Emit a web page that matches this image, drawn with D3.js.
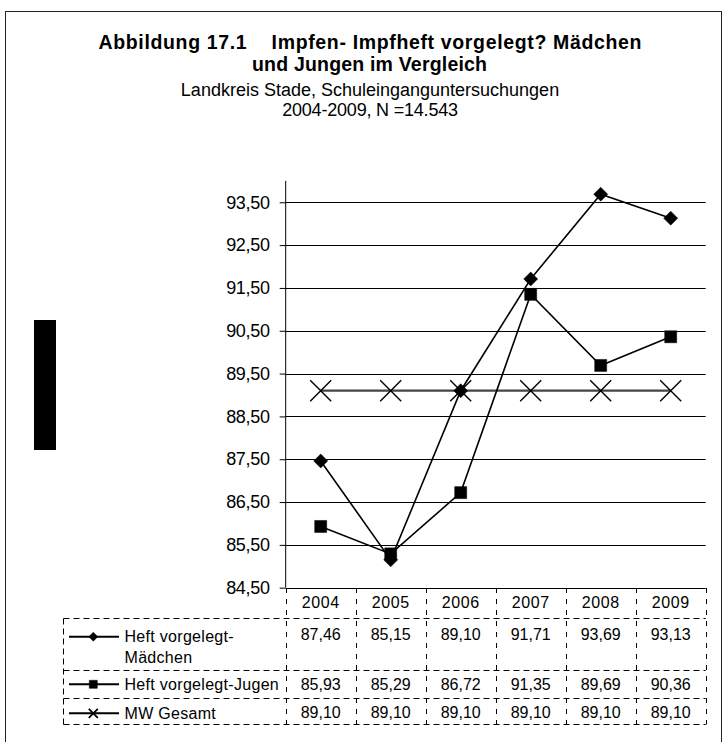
<!DOCTYPE html>
<html>
<head>
<meta charset="utf-8">
<script src="https://cdn.jsdelivr.net/npm/d3@7"></script>
<style>
    body { margin: 0; background: #fff; }
    svg text { font-family: "Liberation Sans", Arial, sans-serif; fill: #000; }
</style>
</head>
<body>
<div id="chart"></div>
<script>
// Daten
const years = ["2004", "2005", "2006", "2007", "2008", "2009"];
const maedchen = [87.46, 85.15, 89.10, 91.71, 93.69, 93.13];
const jungen = [85.93, 85.29, 86.72, 91.35, 89.69, 90.36];
const mwGesamt = [89.10, 89.10, 89.10, 89.10, 89.10, 89.10];
const yTicks = [84.5, 85.5, 86.5, 87.5, 88.5, 89.5, 90.5, 91.5, 92.5, 93.5];
const seriesNames = ["Heft vorgelegt-Mädchen", "Heft vorgelegt-Jugen", "MW Gesamt"];

const W = 725, H = 742;
const plotLeft = 285.7, plotRight = 705.7;

const svg = d3.select("#chart").append("svg")
    .attr("width", W)
    .attr("height", H);

// Rahmen
svg.append("rect")
    .attr("x", 5.5).attr("y", 11.5)
    .attr("width", 716).attr("height", 800)
    .attr("fill", "none").attr("stroke", "#222").attr("stroke-width", 1);

// schwarzer Balken links
svg.append("rect")
    .attr("x", 34).attr("y", 320)
    .attr("width", 22).attr("height", 130)
    .attr("fill", "#000");

// Titel
const title = svg.append("g").attr("text-anchor", "middle");
title.append("text")
    .attr("x", 370).attr("y", 48.5)
    .style("font-size", "19.5px").style("font-weight", "bold")
    .style("white-space", "pre")
    .attr("textLength", 543).attr("lengthAdjust", "spacing")
    .text("Abbildung 17.1    Impfen- Impfheft vorgelegt? Mädchen");
title.append("text")
    .attr("x", 369.5).attr("y", 70.5)
    .style("font-size", "19.5px").style("font-weight", "bold")
    .attr("textLength", 235).attr("lengthAdjust", "spacing")
    .text("und Jungen im Vergleich");
title.append("text")
    .attr("x", 370).attr("y", 95.5)
    .style("font-size", "18px").style("letter-spacing", "0px")
    .text("Landkreis Stade, Schuleinganguntersuchungen");
title.append("text")
    .attr("x", 370).attr("y", 115.5)
    .style("font-size", "18px").style("letter-spacing", "-0.2px")
    .text("2004-2009, N =14.543");

// Skalen
const x = d3.scaleBand().domain(years).range([plotLeft, plotRight]).padding(0);
const y = d3.scaleLinear().domain([84.5, 93.5]).range([587.7, 202.3]);

const fmt = d3.formatLocale({ decimal: ",", thousands: ".", grouping: [3], currency: ["", "€"] }).format(".2f");

// Gitterlinien
svg.append("g").selectAll("line")
    .data(yTicks.slice(1))
    .enter().append("line")
    .attr("x1", plotLeft).attr("x2", plotRight)
    .attr("y1", d => Math.round(y(d)) + 0.5).attr("y2", d => Math.round(y(d)) + 0.5)
    .attr("stroke", "#000").attr("stroke-width", 1);

// Y-Achse
const yAxis = svg.append("g")
    .attr("transform", `translate(${plotLeft},0)`)
    .call(d3.axisLeft(y).tickValues(yTicks).tickFormat(fmt).tickSize(6).tickSizeOuter(0).tickPadding(10));
yAxis.select(".domain").remove();
yAxis.append("line")
    .attr("x1", 0).attr("x2", 0)
    .attr("y1", y(94)).attr("y2", y(84.5))
    .attr("stroke", "#000");
yAxis.selectAll(".tick line").attr("stroke", "#000");
yAxis.selectAll("text")
    .style("font-size", "18px")
    .style("letter-spacing", "-0.3px")
    .attr("fill", "#000");

// X-Achsenlinie
svg.append("line")
    .attr("x1", plotLeft).attr("x2", plotRight)
    .attr("y1", Math.round(y(84.5)) + 0.5).attr("y2", Math.round(y(84.5)) + 0.5)
    .attr("stroke", "#000");

// Marker
const diamond = r => `M0,${-r}L${r},0L0,${r}L${-r},0Z`;
const square = r => `M${-r},${-r}H${r}V${r}H${-r}Z`;
const cross = r => `M${-r},${-r}L${r},${r}M${-r},${r}L${r},${-r}`;

const series = [
    { name: seriesNames[0], values: maedchen, mark: diamond, r: 7, filled: true, legR: 4.5 },
    { name: seriesNames[1], values: jungen, mark: square, r: 6, filled: true, legR: 4 },
    { name: seriesNames[2], values: mwGesamt, mark: cross, r: 10.5, filled: false, legR: 4.5 }
];

const line = d3.line()
    .x((d, i) => x(years[i]) + x.bandwidth() / 2)
    .y(d => y(d));

// zuerst MW-Linie, dann Jungen, dann Mädchen
[2, 1, 0].forEach(k => {
    const s = series[k];
    svg.append("path")
        .datum(s.values)
        .attr("d", line)
        .attr("fill", "none")
        .attr("stroke", k === 2 ? "#444" : "#000")
        .attr("stroke-width", k === 2 ? 2.2 : 1.6);
});
[2, 1, 0].forEach(k => {
    const s = series[k];
    svg.append("g").selectAll("path")
        .data(s.values)
        .enter().append("path")
        .attr("transform", (d, i) => `translate(${x(years[i]) + x.bandwidth() / 2},${y(d)})`)
        .attr("d", s.mark(s.r))
        .attr("fill", s.filled ? "#000" : "none")
        .attr("stroke", "#000")
        .attr("stroke-width", s.filled ? 0.5 : 1.4);
});

// Datentabelle
const table = svg.append("g")
    .attr("fill", "none")
    .attr("stroke", "#000")
    .attr("stroke-width", 1)
    .attr("stroke-dasharray", "6,4");
const tTop = 618.5, tRows = [670.5, 698.5], tBottom = 724.5, tLeft = 63.5;
const colX = years.map(d => x(d)).concat([plotRight]);

[tTop, ...tRows, tBottom].forEach(yy => {
    table.append("line")
        .attr("x1", tLeft).attr("x2", plotRight)
        .attr("y1", yy).attr("y2", yy);
});
table.append("line")
    .attr("x1", tLeft).attr("x2", tLeft)
    .attr("y1", tTop).attr("y2", tBottom);
colX.forEach(cx => {
    table.append("line")
        .attr("x1", Math.round(cx) + 0.5).attr("x2", Math.round(cx) + 0.5)
        .attr("y1", 588).attr("y2", tBottom)
        .attr("stroke-dasharray", "5,6");
});

// Jahre
svg.append("g").selectAll("text")
    .data(years)
    .enter().append("text")
    .attr("x", d => x(d) + x.bandwidth() / 2)
    .attr("y", 607.5)
    .attr("text-anchor", "middle")
    .style("font-size", "16px")
    .style("letter-spacing", "0.6px")
    .text(d => d);

// Werte
const rowBase = [640, 690, 718];
series.forEach((s, k) => {
    svg.append("g").selectAll("text")
        .data(s.values)
        .enter().append("text")
        .attr("x", (d, i) => x(years[i]) + x.bandwidth() / 2)
        .attr("y", rowBase[k])
        .attr("text-anchor", "middle")
        .style("font-size", "16px")
        .text(d => fmt(d));
});

// Legende in der Tabelle
const legLineY = [636.7, 684.3, 713.3];
series.forEach((s, k) => {
    svg.append("line")
        .attr("x1", 69).attr("x2", 119)
        .attr("y1", legLineY[k]).attr("y2", legLineY[k])
        .attr("stroke", "#000").attr("stroke-width", 2);
    svg.append("path")
        .attr("transform", `translate(93.3,${legLineY[k]})`)
        .attr("d", s.mark(s.legR))
        .attr("fill", s.filled ? "#000" : "none")
        .attr("stroke", "#000")
        .attr("stroke-width", s.filled ? 0.5 : 1.8);
});
const legText = svg.append("g").style("font-size", "16px").style("letter-spacing", "0.3px");
legText.append("text").attr("x", 124.5).attr("y", 641.5).text("Heft vorgelegt-");
legText.append("text").attr("x", 124.5).attr("y", 663).text("Mädchen");
legText.append("text").attr("x", 124.5).attr("y", 690).text(seriesNames[1]);
legText.append("text").attr("x", 124.5).attr("y", 718.5).text(seriesNames[2]);
</script>
</body>
</html>
